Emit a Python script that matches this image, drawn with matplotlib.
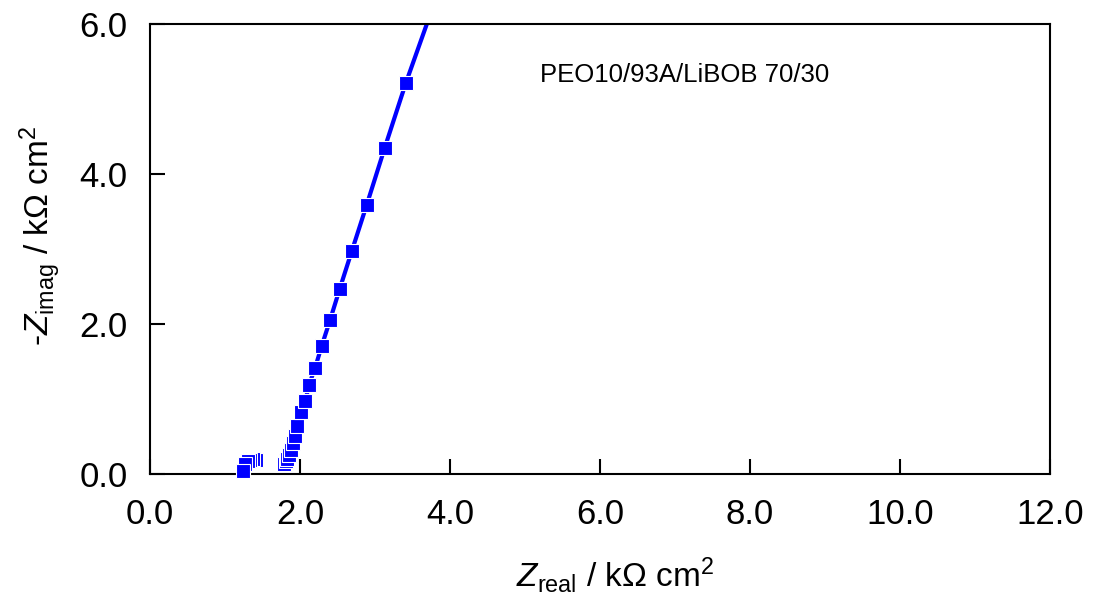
import matplotlib
matplotlib.use('Agg')
import matplotlib.pyplot as plt

plt.rcParams['font.family'] = ['Liberation Sans', 'DejaVu Sans']
plt.rcParams['mathtext.fontset'] = 'custom'
plt.rcParams['mathtext.rm'] = 'Liberation Sans'
plt.rcParams['mathtext.it'] = 'Liberation Sans:italic'

# small high-frequency arc (kOhm cm2), in measurement order
arcReal = [1.41, 1.37, 1.33, 1.30, 1.27, 1.24]
arcImag = [0.19, 0.20, 0.19, 0.18, 0.14, 0.04]

# low-frequency tail
tailReal = [1.79, 1.81, 1.83, 1.85, 1.88, 1.91, 1.93, 1.96, 2.01, 2.07,
            2.12, 2.20, 2.29, 2.40, 2.53, 2.69, 2.89, 3.13, 3.41]
tailImag = [0.14, 0.17, 0.20, 0.25, 0.32, 0.41, 0.51, 0.64, 0.83, 0.97,
            1.19, 1.41, 1.71, 2.05, 2.47, 2.97, 3.59, 4.35, 5.21]

# fitted line continues past the top of the frame
lineReal = tailReal + [3.78]
lineImag = tailImag + [6.25]

xticks = [0, 2, 4, 6, 8, 10, 12]
yticks = [0, 2, 4, 6]

fig = plt.figure(figsize=(10.96, 6.14), dpi=100)
ax = fig.add_axes([150/1096, 1-474/614, 900/1096, 450/614])

ax.plot(lineReal, lineImag, c='#0000FF', lw=3, zorder=2)
ax.plot(arcReal, arcImag, ls='none', marker='s', ms=10.5, mfc='#0000FF',
        mec='white', mew=0.8, zorder=3, clip_on=False)
ax.plot(tailReal, tailImag, ls='none', marker='s', ms=10.5, mfc='#0000FF',
        mec='white', mew=0.8, zorder=3, clip_on=False)

ax.set_xlim(0, 12)
ax.set_ylim(0, 6)
ax.set_xticks(xticks)
ax.set_yticks(yticks)
ax.set_xticklabels(['%.1f' % v for v in xticks])
ax.set_yticklabels(['%.1f' % v for v in yticks])
ax.tick_params(direction='in', length=11, width=1.5, labelsize=25,
               top=False, right=False)
ax.tick_params(axis='x', pad=17)
ax.tick_params(axis='y', pad=16)
for s in ax.spines.values():
    s.set_linewidth(1.5)

ax.text(5.2, 5.32, 'PEO10/93A/LiBOB 70/30', fontsize=18.5, va='center')

ax.set_xlabel(r'$\it{Z}_{\rm real}$ / kΩ cm$^{2}$', fontsize=24, va='center')
ax.xaxis.set_label_coords(0.517, -0.225)
ax.set_ylabel(r'-$\it{Z}_{\rm imag}$ / kΩ cm$^{2}$', fontsize=24, va='center')
ax.yaxis.set_label_coords(-0.122, 0.53)

fig.savefig('out.png', dpi=100)
